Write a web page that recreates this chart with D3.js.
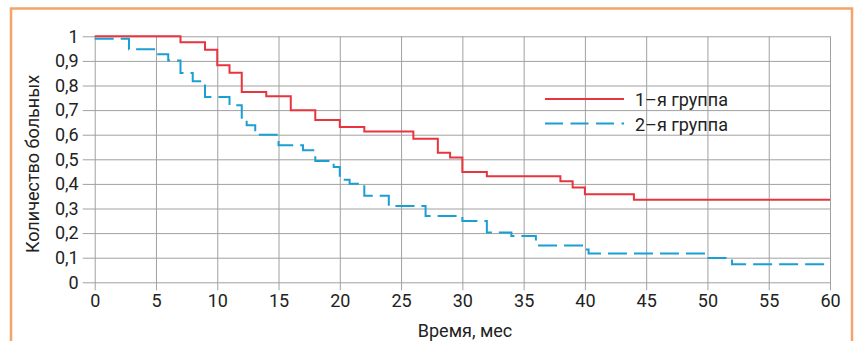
<!DOCTYPE html>
<html>
<head>
<meta charset="utf-8">
<script src="https://cdn.jsdelivr.net/npm/d3@7/dist/d3.min.js"></script>
<style>
  body { margin: 0; background: #fff; }
  svg { display: block; }
  .tick text { font-family: "Liberation Sans Narrow", "Roboto", sans-serif; font-size: 18px; fill: #222; }
</style>
</head>
<body>
<script>
var W = 859, H = 341;

// group 1 (red) - step curve, time in months
var group1Time = [0, 7, 9, 10, 11, 12, 14, 16, 18, 20, 22, 26, 28, 29, 30, 32, 38, 39, 40, 44, 60];
var group1Val  = [1, 0.976, 0.945, 0.882, 0.852, 0.774, 0.756, 0.699, 0.66, 0.631, 0.613, 0.584, 0.527, 0.507, 0.448, 0.431, 0.411, 0.385, 0.358, 0.336, 0.336];

// group 2 (blue dashed)
var group2Time = [0, 2.8, 5, 6, 7, 8, 9, 11, 12, 12.4, 13.1, 15, 17, 18, 19.5, 20, 20.8, 22, 24, 27, 30, 32, 34, 36, 40, 40.3, 50, 52, 59.6];
var group2Val  = [0.99, 0.947, 0.927, 0.902, 0.851, 0.817, 0.753, 0.72, 0.665, 0.638, 0.6, 0.557, 0.537, 0.493, 0.469, 0.417, 0.401, 0.352, 0.31, 0.27, 0.249, 0.202, 0.188, 0.15, 0.133, 0.117, 0.099, 0.073, 0.073];

var xTicks = [0, 5, 10, 15, 20, 25, 30, 35, 40, 45, 50, 55, 60];
var yTicks = [0, 0.1, 0.2, 0.3, 0.4, 0.5, 0.6, 0.7, 0.8, 0.9, 1];
var legendNames = ['1–я группа', '2–я группа'];
var colors = ['#e8343f', '#1a9fd4'];

var plotLeft = 94.7, plotRight = 830, plotTop = 36.3, plotBottom = 282.3;

var svg = d3.select('body').append('svg')
    .attr('width', W)
    .attr('height', H);

// orange frame
svg.append('rect')
    .attr('x', 11).attr('y', 8.5)
    .attr('width', 841).attr('height', 345)
    .attr('fill', '#fff')
    .attr('stroke', '#f2a46a')
    .attr('stroke-width', 2.5);

var x = d3.scaleLinear().domain([0, 60]).range([plotLeft, plotRight]);
var y = d3.scaleLinear().domain([0, 1]).range([plotBottom, plotTop]);

function fmt(d) { return String(d).replace('.', ','); }

// y axis + horizontal grid
var yAxis = svg.append('g')
    .attr('transform', 'translate(' + (plotLeft - 12) + ',0)')
    .call(d3.axisLeft(y).tickValues(yTicks).tickFormat(fmt)
        .tickSize(-(plotRight - plotLeft + 12)).tickSizeOuter(0).tickPadding(4));
yAxis.select('.domain').remove();
yAxis.selectAll('line').attr('stroke', '#a0a0a0');

// x axis + vertical grid
var xAxis = svg.append('g')
    .attr('transform', 'translate(0,' + (plotBottom + 8) + ')')
    .call(d3.axisBottom(x).tickValues(xTicks).tickFormat(fmt)
        .tickSize(-(plotBottom + 8 - plotTop)).tickSizeOuter(0).tickPadding(4));
xAxis.select('.domain').remove();
xAxis.selectAll('line').attr('stroke', '#a0a0a0');

var line = d3.line()
    .x(function (d) { return x(d[0]); })
    .y(function (d) { return y(d[1]); })
    .curve(d3.curveStepAfter);

var g2 = d3.zip(group2Time, group2Val);
var g1 = d3.zip(group1Time, group1Val);

svg.append('path')
    .attr('d', line(g2))
    .attr('fill', 'none')
    .attr('stroke', colors[1])
    .attr('stroke-width', 2)
    .attr('stroke-dasharray', '19,7');

svg.append('path')
    .attr('d', line(g1))
    .attr('fill', 'none')
    .attr('stroke', colors[0])
    .attr('stroke-width', 2);

// legend
var legend = svg.append('g');
legendNames.forEach(function (name, i) {
    var ly = 99 + i * 24.5;
    legend.append('line')
        .attr('x1', 545).attr('x2', 624)
        .attr('y1', ly).attr('y2', ly)
        .attr('stroke', colors[i])
        .attr('stroke-width', 2)
        .attr('stroke-dasharray', i === 1 ? '18,7.5' : null);
    legend.append('text')
        .attr('x', 635).attr('y', ly + 7)
        .attr('font-family', '"Liberation Sans Narrow", "Roboto", sans-serif')
        .attr('font-size', 18)
        .attr('fill', '#222')
        .text(name);
});

// axis titles
svg.append('text')
    .attr('transform', 'translate(39,164) rotate(-90)')
    .attr('text-anchor', 'middle')
    .attr('font-family', '"Liberation Sans Narrow", "Roboto", sans-serif')
    .attr('font-size', 18)
    .attr('fill', '#222')
    .text('Количество больных');

svg.append('text')
    .attr('x', 465).attr('y', 337)
    .attr('text-anchor', 'middle')
    .attr('font-family', '"Liberation Sans Narrow", "Roboto", sans-serif')
    .attr('font-size', 18)
    .attr('fill', '#222')
    .text('Время, мес');
</script>
</body>
</html>
